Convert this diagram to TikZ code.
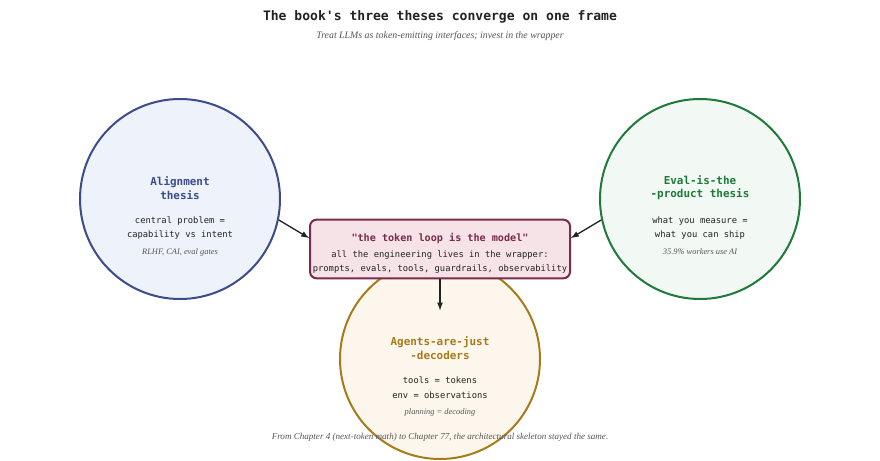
\documentclass[tikz,border=0pt]{standalone}
\usepackage{fontspec}
\setmainfont{Liberation Serif}
\setmonofont{DejaVu Sans Mono}
\usetikzlibrary{calc}
\definecolor{ink}{HTML}{222222}
\definecolor{grayt}{HTML}{555555}
\definecolor{alignc}{HTML}{3C4C8A}
\definecolor{alignf}{HTML}{EEF2FA}
\definecolor{evalc}{HTML}{1E7A38}
\definecolor{evalf}{HTML}{F2F8F3}
\definecolor{agentc}{HTML}{A67C1A}
\definecolor{agentf}{HTML}{FDF6EC}
\definecolor{loopc}{HTML}{7A2A4A}
\definecolor{loopf}{HTML}{F6E3E8}
\tikzset{
  thesis/.style={circle,draw=#1,line width=1.5pt,minimum size=150pt,inner sep=0pt},
  head/.style={font=\ttfamily\bfseries\fontsize{8.2}{10}\selectfont,align=center},
  body/.style={font=\ttfamily\fontsize{6.6}{11}\selectfont,text=ink,align=center},
  note/.style={font=\itshape\fontsize{6.3}{8}\selectfont,text=grayt}
}
\begin{document}
\begin{tikzpicture}[>=latex,x=0.75pt,y=-0.75pt]
  \useasboundingbox (0,0) rectangle (880,460);
  \node[font=\ttfamily\bfseries\fontsize{9.8}{12}\selectfont,text=ink] (title) at (440,17) {The book's three theses converge on one frame};
  \node[note,font=\itshape\fontsize{7.4}{9}\selectfont] (sub) at (440,36) {Treat LLMs as token-emitting interfaces; invest in the wrapper};
  % three circles
  \node[thesis=alignc,fill=alignf] (L) at (180,199) {};
  \node[thesis=evalc,fill=evalf] (R) at (700,199) {};
  \node[thesis=agentc,fill=agentf] (B) at (440,359) {};
  \node[head,text=alignc] at (180,188) {Alignment\\thesis};
  \node[body] at (180,228) {central problem =\\capability vs intent};
  \node[note] at (180,252) {RLHF, CAI, eval gates};
  \node[head,text=evalc] at (700,188) {Eval-is-the\\-product thesis};
  \node[body] at (700,228) {what you measure =\\what you can ship};
  \node[note] at (700,252) {35.9\% workers use AI};
  \node[head,text=agentc] at (440,348) {Agents-are-just\\-decoders};
  \node[body] at (440,388) {tools = tokens\\env = observations};
  \node[note] at (440,412) {planning = decoding};
  % the frame
  \node[draw=loopc,fill=loopf,line width=1.5pt,rounded corners=5pt,minimum width=195pt,minimum height=44pt] (box) at (440,249) {};
  \node[head,text=loopc,font=\ttfamily\bfseries\fontsize{7.6}{9}\selectfont] at (440,238) {"the token loop is the model"};
  \node[body,font=\ttfamily\fontsize{6.6}{10.5}\selectfont] at (440,262) {all the engineering lives in the wrapper:\\prompts, evals, tools, guardrails, observability};
  \draw[->,ink,line width=1pt] (L.-12) -- ($(box.west)+(0,-11)$);
  \draw[->,ink,line width=1pt] (R.192) -- ($(box.east)+(0,-11)$);
  \draw[->,ink,line width=1pt] (box.south) -- ++(0,31);
  \node[note,font=\itshape\fontsize{6.8}{8}\selectfont] (foot) at (440,437) {From Chapter 4 (next-token math) to Chapter 77, the architectural skeleton stayed the same.};
\end{tikzpicture}
\end{document}
